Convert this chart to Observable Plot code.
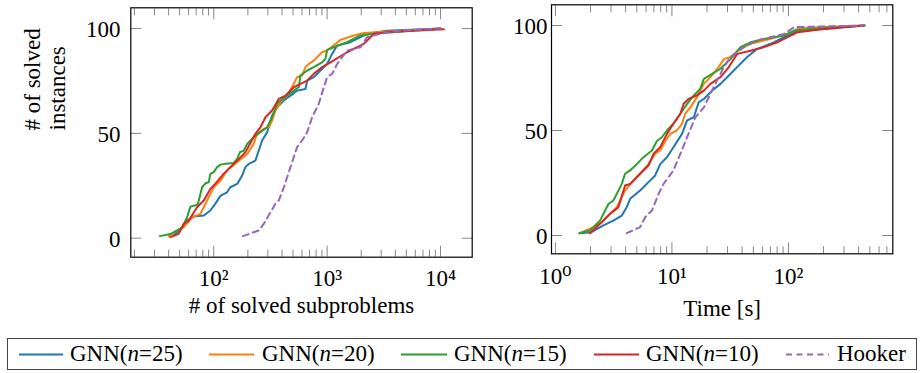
<!DOCTYPE html>
<html>
<head>
<meta charset="utf-8">
<script src="https://cdn.jsdelivr.net/npm/d3@7"></script>
<script src="https://cdn.jsdelivr.net/npm/@observablehq/plot@0.6"></script>
<style>
  body { margin: 0; background: #fff; }
  #wrap { position: relative; width: 920px; height: 373px; font-family: "Liberation Serif", "Times New Roman", Times, "DejaVu Serif", serif; color: #000; overflow: hidden; }
  #wrap svg text { font-family: "Liberation Serif", "Times New Roman", Times, "DejaVu Serif", serif; }
  .panel { position: absolute; top: 0; }
  #legend { position: absolute; left: 7px; top: 338px; width: 910px; height: 32px; border: 1px solid #444; box-sizing: border-box; }
  .item { position: absolute; top: 0; height: 100%; font-size: 23px; line-height: 30px; white-space: nowrap; }
  .sample { position: absolute; top: 0; }
</style>
</head>
<body>
<div id="wrap">
  <div id="left" class="panel" style="left:0px"></div>
  <div id="right" class="panel" style="left:480px"></div>
  <div id="legend"></div>
</div>
<script>
// ---------- series names & colours ----------
const seriesLabels = ["GNN(<i>n</i>=25)", "GNN(<i>n</i>=20)", "GNN(<i>n</i>=15)", "GNN(<i>n</i>=10)", "Hooker"];
const seriesColors = ["#1f77b4", "#ff7f0e", "#2ca02c", "#d62728", "#9467bd"];
const yTickValues = [0, 50, 100];

// ---------- left panel: # of solved subproblems vs # of solved instances ----------
const sub_n25 = [[44.4,1.3],[52.6,5.2],[58.2,8.4],[66.6,10.3],[81.7,10.8],[93.4,13.2],[103,16.4],[115,20.3],[131,21.9],[140,24.3],[161,25.9],[178,29.9],[190,33.9],[204,35.5],[233,37],[267,46.6],[296,50.6],[327,58.5],[362,62.5],[415,65.7],[475,68],[543,70.4],[644,71.2],[667,75.2],[762,76.8],[873,80],[1000,83.1],[1106,87.9],[1225,91.9],[1607,93.5],[2254,97.5],[3381,99],[10000,100]];
const sub_n20 = [[40.1,1],[47.5,3.7],[54.3,5.2],[64.4,10],[76.2,11.6],[81.7,14.8],[90.3,19.6],[100,24.3],[115,27.5],[131,32.3],[155,35.5],[197,40.2],[225,45],[241,49.8],[276,52.1],[306,52.9],[327,56.1],[350,60.9],[388,64.9],[443,68],[508,73.6],[543,76.8],[601,77.6],[644,81.6],[689,83.1],[762,84.7],[903,88.7],[1000,89.5],[1312,94.6],[1718,96.7],[2107,97.9],[10000,100]];
const sub_n15 = [[33.4,1],[41.5,2],[52.6,5],[58.2,10],[62.2,15],[72.2,16],[76.2,21],[78.9,24.3],[84.4,26.2],[90.3,26.7],[93.4,30.7],[100,31.5],[107,33.9],[115,35.1],[127,35.5],[150,35.9],[161,37.8],[170,41],[184,41.8],[197,45],[225,48.2],[258,50.6],[296,52.9],[327,57.7],[362,64.1],[388,65.7],[443,68],[508,70.4],[562,72],[582,77.6],[667,80],[762,81.6],[903,83.9],[966,85.5],[1000,89.8],[1145,91.1],[1500,93.5],[1968,96.7],[2581,97.5],[10000,100]];
const sub_n10 = [[41.5,0.5],[49.1,2.1],[54.3,6.8],[60.1,8.4],[71.3,14.8],[81.7,18],[93.4,23.5],[103,25.9],[122,30.7],[140,33.9],[161,37],[190,41],[233,49.8],[258,52.9],[286,57.7],[327,60.9],[375,66.5],[429,68],[508,72],[582,73.6],[667,75.2],[762,78.4],[903,81.6],[1069,83.9],[1500,88.7],[2107,92.7],[2581,97.5],[3381,98.3],[10700,99.7]];
const sub_hooker = [[181,1],[249,3.7],[276,6.8],[350,16.4],[375,18],[415,24.3],[475,33.9],[543,43.4],[601,46.6],[667,50.6],[738,57.7],[844,64.1],[935,72],[1000,76.8],[1106,78.4],[1225,83.1],[1500,89.5],[1968,91.1],[2254,95.9],[2955,97.5],[4436,99],[10000,100]];

// ---------- right panel: time [s] vs # of solved instances ----------
const time_n25 = [[1.62,1.1],[2.04,1.6],[2.58,4.8],[3.14,7.1],[3.71,9.5],[4.09,13.5],[4.38,17.5],[5.33,21.4],[6.29,25.4],[7.18,28.6],[7.93,34],[9.06,37.3],[10.3,42],[12.2,48.4],[13.5,54.8],[15.4,56.3],[17.0,63.5],[18.8,65],[22.1,69],[26.1,72.2],[30.8,76.2],[36.3,80.2],[44.3,85],[54.0,88.9],[70.4,91.3],[91.8,94.4],[120,97.6],[166,98.4],[449,100]];
const time_n20 = [[1.62,1.1],[2.11,4],[2.49,6.3],[2.94,10.3],[3.36,13.5],[3.96,21.4],[4.68,26.2],[5.33,29.4],[6.29,34],[7.18,39],[7.93,40.5],[8.77,45],[9.68,48.4],[11.0,50],[12.2,53.2],[13.0,58],[14.4,61],[16.4,65.9],[18.8,72.2],[21.4,75.4],[25.2,80.2],[27.9,84],[31.8,85],[38.8,88.9],[47.3,91.3],[70.4,93.7],[98.0,96],[120,98.4],[166,99],[449,100]];
const time_n15 = [[1.60,1.1],[1.98,2.4],[2.41,7.1],[2.58,10.3],[2.85,15],[3.14,16.7],[3.36,19.8],[3.71,24.6],[3.96,29.4],[4.38,31],[4.99,34],[5.70,37.3],[6.73,40.5],[7.43,45],[8.20,46.8],[9.06,50],[10.3,53.2],[11.0,55.5],[11.8,58],[13.5,62.7],[15.4,66.7],[17.5,69.8],[18.8,74.6],[22.1,77],[26.1,79.4],[31.8,84],[38.8,89.7],[47.3,92],[61.7,93.6],[91.8,95.2],[112,97.6],[166,98.4],[449,100]];
const time_n10 = [[1.98,1.1],[2.41,5.6],[2.94,10.3],[3.47,13.5],[3.96,23.8],[4.38,24.6],[5.33,29.4],[6.29,33.3],[6.95,38.9],[7.93,42],[9.06,48.4],[10.3,53.2],[11.8,58],[12.6,62.7],[13.9,65],[16.4,66.7],[18.8,69],[21.4,72.2],[26.1,75.4],[30.8,80.2],[36.3,86.5],[47.3,88],[61.7,89.7],[80.4,92],[91.8,93.6],[120,96.8],[178,98],[449,100]];
const time_hooker = [[4.09,1.1],[5.33,4],[5.89,8.7],[6.73,11.9],[7.68,19.8],[8.48,24.6],[10.3,31],[11.8,38.9],[13.5,46.8],[15.9,56.3],[18.8,61],[21.4,67.5],[24.4,73.8],[27.9,80.2],[31.8,85],[41.5,89.7],[54.0,92.9],[70.4,94.4],[91.8,96],[112,99.2],[449,100]];

const FONT = "'Liberation Serif', 'Times New Roman', Times, 'DejaVu Serif', serif";
const SUP = "⁰¹²³⁴⁵⁶⁷⁸⁹";
const supFmt = d => "10" + SUP[Math.round(Math.log10(d))];

function minorTicks(lo, hi) {
  const out = [];
  for (let e = Math.floor(Math.log10(lo)); e <= Math.ceil(Math.log10(hi)); e++) {
    for (let m = 2; m <= 9; m++) {
      const v = m * Math.pow(10, e);
      if (v >= lo && v <= hi) out.push(v);
    }
  }
  return out;
}

function panel(cfg) {
  const rows = [];
  cfg.series.forEach((s, k) => s.forEach(([x, y]) => rows.push({x, y, k})));
  const tk = {stroke: "#7a7a7a", strokeWidth: 0.9, tickFormat: () => ""};
  const minors = minorTicks(cfg.xDomain[0], cfg.xDomain[1]);
  const marks = [
    Plot.axisX(minors, {anchor: "bottom", tickSize: -7, ...tk}),
    Plot.axisX(minors, {anchor: "top", tickSize: -7, ...tk}),
    Plot.axisX(cfg.majors, {anchor: "bottom", tickSize: -11, ...tk}),
    Plot.axisX(cfg.majors, {anchor: "top", tickSize: -11, ...tk}),
    Plot.axisY(yTickValues, {anchor: "left", tickSize: -11, ...tk}),
    Plot.axisY(yTickValues, {anchor: "right", tickSize: -11, ...tk}),
    Plot.axisX(cfg.majors, {anchor: "bottom", tickSize: 0, tickPadding: cfg.xPad, tickFormat: supFmt, fontSize: 23}),
    Plot.axisY(yTickValues, {anchor: "left", tickSize: 0, tickPadding: cfg.yPad, dy: 1, fontSize: 23}),
  ];
  seriesColors.forEach((c, k) => {
    marks.push(Plot.line(rows.filter(r => r.k === k), {
      x: "x", y: "y", stroke: c, strokeWidth: 2,
      strokeDasharray: k === 4 ? "6,4.5" : null,
      strokeLinejoin: "round"
    }));
  });
  marks.push(Plot.frame({stroke: "#000", strokeWidth: 1.2}));
  marks.push(Plot.text([cfg.xLabel], {frameAnchor: "bottom", lineAnchor: "bottom", dy: cfg.xLabelDy, text: d => d, fontSize: 23}));
  if (cfg.yLabel) {
    marks.push(Plot.text([cfg.yLabel], {frameAnchor: "left", lineAnchor: "middle", rotate: -90, dx: -86, dy: -2, lineHeight: 1.09, text: d => d, fontSize: 23}));
  }
  return Plot.plot({
    width: cfg.width, height: cfg.height,
    marginLeft: cfg.mL, marginRight: cfg.mR, marginTop: cfg.mT, marginBottom: cfg.mB,
    x: {type: "log", domain: cfg.xDomain, label: null},
    y: {domain: cfg.yDomain, label: null},
    style: {fontFamily: FONT, fontSize: "23px", color: "#000", background: "transparent", overflow: "visible"},
    marks
  });
}

document.getElementById("left").appendChild(panel({
  series: [sub_n25, sub_n20, sub_n15, sub_n10, sub_hooker],
  width: 480, height: 335, mL: 130.3, mR: 8.3, mT: 7.3, mB: 78.3,
  xDomain: [18.55, 19040], yDomain: [-9.06, 109.9],
  majors: [100, 1000, 10000], xPad: 12, yPad: 10.3,
  xLabel: "# of solved subproblems", xLabelDy: 56,
  yLabel: "# of solved\ninstances"
}));

document.getElementById("right").appendChild(panel({
  series: [time_n25, time_n20, time_n15, time_n10, time_hooker],
  width: 440, height: 335, mL: 71, mR: 27.7, mT: 4.3, mB: 81.7,
  xDomain: [0.925, 787], yDomain: [-8.71, 109.86],
  majors: [1, 10, 100], xPad: 13.7, yPad: 4,
  xLabel: "Time [s]", xLabelDy: 62
}));

// ---------- legend ----------
const legendSamples = [[10.6, 54.6], [201, 246], [393, 439], [586, 631], [778, 821]];
const legendText = [62, 254, 446, 638, 829];
const lg = document.getElementById("legend");
seriesLabels.forEach((lab, i) => {
  const [a, b] = legendSamples[i];
  const s = document.createElementNS("http://www.w3.org/2000/svg", "svg");
  s.setAttribute("class", "sample");
  s.setAttribute("width", b - a);
  s.setAttribute("height", 30);
  s.style.left = a + "px";
  const ln = document.createElementNS("http://www.w3.org/2000/svg", "line");
  ln.setAttribute("x1", 0); ln.setAttribute("x2", b - a);
  ln.setAttribute("y1", 15.5); ln.setAttribute("y2", 15.5);
  ln.setAttribute("stroke", seriesColors[i]);
  ln.setAttribute("stroke-width", 2);
  if (i === 4) ln.setAttribute("stroke-dasharray", "6,4.5");
  s.appendChild(ln);
  lg.appendChild(s);
  const t = document.createElement("div");
  t.className = "item";
  t.style.left = legendText[i] + "px";
  t.innerHTML = lab;
  lg.appendChild(t);
});
</script>
</body>
</html>
